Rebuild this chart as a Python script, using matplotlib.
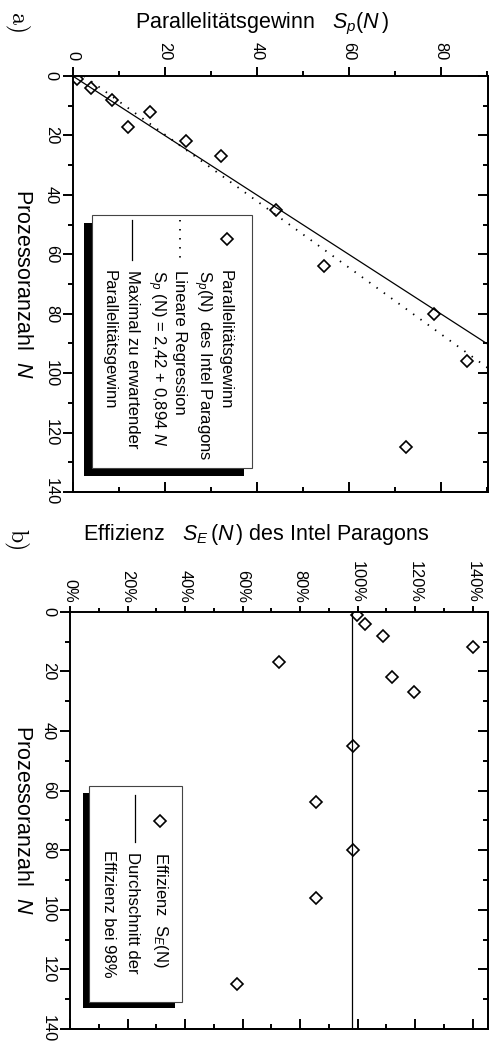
import matplotlib
matplotlib.use("Agg")
import matplotlib.pyplot as plt
from matplotlib.patches import Rectangle
from matplotlib.lines import Line2D
from matplotlib.ticker import MultipleLocator, FuncFormatter

plt.rcParams["font.family"] = ["Liberation Sans", "DejaVu Sans"]
plt.rcParams["mathtext.fontset"] = "custom"
plt.rcParams["mathtext.rm"] = "Liberation Sans"
plt.rcParams["mathtext.it"] = "Liberation Sans:italic"
plt.rcParams["mathtext.bf"] = "Liberation Sans:bold"

# ---- Messdaten (Intel Paragon) ----
prozessoren = [1, 4, 8, 12, 17, 22, 27, 45, 64, 80, 96, 125]
gewinn = [1.0, 3.9, 8.6, 16.7, 12.1, 24.6, 32.2, 44.1, 54.6, 78.6, 85.8, 72.4]
effizienz = [99.8, 102.5, 108.9, 140.2, 72.7, 112.0, 119.7, 98.3, 85.4, 98.3, 85.5, 57.9]
reg_achse = 2.42
reg_steigung = 0.894
eff_mittel = 98.0
n_bereich = [0, 140]

W, H = 492, 1047
fig = plt.figure(figsize=(W / 100, H / 100), dpi=100)


def fx(x):
    return x / W


def fy(y):
    return 1 - y / H


def box(x0, y0, x1, y1):
    return [fx(x0), fy(y1), (x1 - x0) / W, (y1 - y0) / H]


LW = 1.4
TICK = 11.8


def style_axes(ax, xmax, top_len, top_minor, top_pad, fmt=None):
    ax.set_xlim(0, xmax)
    ax.set_ylim(140, 0)
    for sp in ax.spines.values():
        sp.set_linewidth(LW)
    ax.xaxis.set_major_locator(MultipleLocator(20))
    ax.xaxis.set_minor_locator(MultipleLocator(10))
    ax.yaxis.set_major_locator(MultipleLocator(20))
    ax.yaxis.set_minor_locator(MultipleLocator(10))
    if fmt is not None:
        ax.xaxis.set_major_formatter(fmt)
    ax.tick_params(axis="x", which="both", top=True, bottom=False,
                   labeltop=True, labelbottom=False, direction="out",
                   width=LW, labelsize=TICK, labelrotation=-90)
    ax.tick_params(axis="x", which="major", length=top_len, pad=top_pad)
    ax.tick_params(axis="x", which="minor", length=top_minor)
    ax.tick_params(axis="y", which="both", left=True, right=False,
                   labelleft=True, labelright=False, direction="out",
                   width=LW, labelsize=TICK, labelrotation=-90)
    ax.tick_params(axis="y", which="major", length=7, pad=3)
    ax.tick_params(axis="y", which="minor", length=3.6)
    for t in ax.get_yticklabels():
        t.set_va("center")

    # inward ticks on the opposite sides
    sx = ax.secondary_xaxis("bottom")
    sx.xaxis.set_major_locator(MultipleLocator(20))
    sx.xaxis.set_minor_locator(MultipleLocator(10))
    sx.tick_params(axis="x", which="both", direction="in", width=LW,
                   labelbottom=False)
    sx.tick_params(axis="x", which="major", length=7)
    sx.tick_params(axis="x", which="minor", length=3.6)
    sx.spines["bottom"].set_linewidth(LW)

    sy = ax.secondary_yaxis("right")
    sy.yaxis.set_major_locator(MultipleLocator(20))
    sy.yaxis.set_minor_locator(MultipleLocator(10))
    sy.tick_params(axis="y", which="both", direction="in", width=LW,
                   labelright=False)
    sy.tick_params(axis="y", which="major", length=7)
    sy.tick_params(axis="y", which="minor", length=3.6)
    sy.spines["right"].set_linewidth(LW)


MK = dict(ls="none", marker="D", ms=6.6, mfc="none", mec="black", mew=1.2)

# ---------------- a) Parallelitätsgewinn ----------------
ax_a = fig.add_axes(box(72.7, 76, 488, 492))
style_axes(ax_a, 90.3, 6.5, 3.6, 5)
reg_s = [reg_achse + reg_steigung * n for n in n_bereich]
ax_a.plot(reg_s, n_bereich, color="black", lw=1.3, ls=(0, (0.8, 4.2)))
ax_a.plot(n_bereich, n_bereich, color="black", lw=0.9)
ax_a.plot(gewinn, prozessoren, **MK)

# ---------------- b) Effizienz ----------------
ax_b = fig.add_axes(box(70, 611.7, 488, 1029))
style_axes(ax_b, 145.3, 4.5, 3.0, 2,
           fmt=FuncFormatter(lambda v, p: f"{v:.0f}%"))
ax_b.plot([eff_mittel, eff_mittel], n_bereich, color="black", lw=0.9)
ax_b.plot(effizienz, prozessoren, **MK)

# ---------------- titles, labels ----------------
TFS = 15.5
fig.text(fx(135), fy(28.5), "Parallelitätsgewinn   $S_p(N\\,)$",
         fontsize=TFS, ha="left", va="baseline")
fig.text(fx(82.7), fy(540), "Effizienz   $S_E\\,(N\\,)$ des Intel Paragons",
         fontsize=TFS, ha="left", va="baseline")
for yc in (284, 820):
    fig.text(fx(22), fy(yc), "Prozessoranzahl  $N$", fontsize=TFS,
             rotation=-90, ha="center", va="center")
fig.text(fx(17), fy(24), "a)", family="cmr10", fontsize=17,
         rotation=-90, ha="center", va="center")
fig.text(fx(17), fy(540), "b)", family="cmr10", fontsize=17,
         rotation=-90, ha="center", va="center")

# ---------------- legends ----------------
LFS = 12


def legend_frame(x0, y0, x1, y1, off):
    fig.add_artist(Rectangle((fx(x0 - off), fy(y1 + off)), (x1 - x0) / W,
                             (y1 - y0) / H, transform=fig.transFigure,
                             fc="black", ec="none"))
    fig.add_artist(Rectangle((fx(x0), fy(y1)), (x1 - x0) / W, (y1 - y0) / H,
                             transform=fig.transFigure, fc="white",
                             ec="#444444", lw=0.8))


def ltext(x, y, s):
    fig.text(fx(x), fy(y), s, fontsize=LFS, rotation=-90, ha="center",
             va="top")


legend_frame(91.7, 215, 251.7, 468, 8)
fig.add_artist(Line2D([fx(226.7)], [fy(239.3)], transform=fig.transFigure,
                      **MK))
fig.add_artist(Line2D([fx(180), fx(180)], [fy(220), fy(260)],
                      transform=fig.transFigure, color="black", lw=1.3,
                      ls=(0, (0.8, 4.2))))
fig.add_artist(Line2D([fx(131.7), fx(131.7)], [fy(220), fy(260)],
                      transform=fig.transFigure, color="black", lw=0.9))
ltext(225, 270, "Parallelitätsgewinn")
ltext(202, 270, "$\\mathrm{S}_p\\mathrm{(N)}$  des Intel Paragons")
ltext(179, 270, "Lineare Regression")
ltext(156.5, 270, "$\\mathrm{S}_p\\ \\mathrm{(N)}$ = 2,42 + 0,894 $N$")
ltext(132.5, 270, "Maximal zu erwartender")
ltext(109.3, 270, "Parallelitätsgewinn")

legend_frame(89.3, 786, 181.7, 1001.7, 6.7)
fig.add_artist(Line2D([fx(160)], [fy(820.7)], transform=fig.transFigure,
                      **MK))
fig.add_artist(Line2D([fx(135), fx(135)], [fy(795), fy(841.7)],
                      transform=fig.transFigure, color="black", lw=0.9))
ltext(160.7, 851.7, "Effizienz  $\\mathrm{S}_E\\mathrm{(N)}$")
ltext(132.5, 851.7, "Durchschnitt der")
ltext(108, 850, "Effizienz bei 98%")

fig.savefig("out.png", dpi=100)
